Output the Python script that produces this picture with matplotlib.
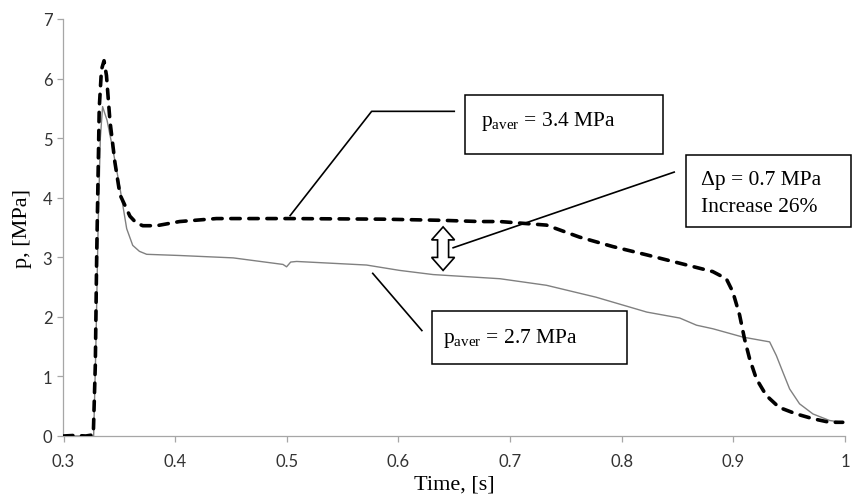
import matplotlib
matplotlib.use("Agg")
import matplotlib.pyplot as plt
from matplotlib.patches import Rectangle, Polygon

# pressure curves
t_new = [0.300, 0.310, 0.320, 0.3267, 0.3285, 0.3297, 0.332, 0.334, 0.3363, 0.3385,
         0.3416, 0.346, 0.3506, 0.3595, 0.365, 0.371, 0.3834, 0.404, 0.437, 0.503,
         0.586, 0.640, 0.673, 0.691, 0.7326, 0.762, 0.792, 0.8225, 0.852, 0.8815,
         0.8937, 0.8995, 0.9056, 0.910, 0.9145, 0.9206, 0.9295, 0.941, 0.9564,
         0.9713, 0.9862, 0.998]
p_new = [0.0, 0.01, 0.0, 0.02, 1.2, 3.0, 5.5, 6.15, 6.30, 6.05,
         5.29, 4.6, 4.05, 3.69, 3.58, 3.53, 3.53, 3.60, 3.65, 3.65,
         3.64, 3.62, 3.60, 3.60, 3.54, 3.34, 3.18, 3.04, 2.90, 2.76,
         2.64, 2.42, 2.03, 1.63, 1.30, 0.96, 0.68, 0.48, 0.37,
         0.29, 0.23, 0.23]

t_old = [0.300, 0.327, 0.329, 0.331, 0.333, 0.335, 0.339, 0.344, 0.3506, 0.3566,
         0.362, 0.368, 0.3745, 0.404, 0.452, 0.4966, 0.4998, 0.5035, 0.5088, 0.5714,
         0.601, 0.631, 0.691, 0.7326, 0.777, 0.8225, 0.852, 0.867, 0.8817, 0.9086,
         0.9325, 0.9385, 0.9444, 0.9504, 0.9593, 0.9713, 0.9862, 0.998]
p_old = [0.0, 0.0, 1.5, 3.5, 5.0, 5.53, 5.3, 4.83, 4.16, 3.48,
         3.2, 3.1, 3.05, 3.03, 2.99, 2.88, 2.84, 2.92, 2.93, 2.87,
         2.78, 2.71, 2.64, 2.53, 2.33, 2.08, 1.98, 1.86, 1.80, 1.66,
         1.58, 1.35, 1.07, 0.79, 0.54, 0.37, 0.26, 0.23]

x_ticks = [0.3, 0.4, 0.5, 0.6, 0.7, 0.8, 0.9, 1.0]
x_labels = ["0.3", "0.4", "0.5", "0.6", "0.7", "0.8", "0.9", "1"]
y_ticks = [0, 1, 2, 3, 4, 5, 6, 7]

plt.rcParams["mathtext.fontset"] = "custom"
plt.rcParams["mathtext.rm"] = "Liberation Serif"
serif = ["Liberation Serif", "DejaVu Serif"]
W, H = 852, 502
fig = plt.figure(figsize=(W / 100, H / 100), dpi=100)
ax = fig.add_axes([63.5 / W, 1 - 437 / H, (845 - 63.5) / W, (437 - 20) / H])

ax.plot(t_old, p_old, color="#808080", lw=1.0, zorder=3)
ax.plot(t_new, p_new, color="black", lw=2.6, linestyle=(0, (2.6, 2.4)),
        dash_capstyle="round", zorder=4)

ax.set_xlim(0.3, 1.0)
ax.set_ylim(0, 7)
ax.set_xticks(x_ticks)
ax.set_xticklabels(x_labels)
ax.set_yticks(y_ticks)
for s in ["top", "right"]:
    ax.spines[s].set_visible(False)
for s in ["left", "bottom"]:
    ax.spines[s].set_color("#a6a6a6")
    ax.spines[s].set_linewidth(0.9)
ax.tick_params(axis="both", color="#a6a6a6", length=4, width=0.9,
               labelcolor="#333333", labelsize=12)
ax.tick_params(axis="x", pad=8)
ax.tick_params(axis="y", pad=4)
for lab in ax.get_xticklabels() + ax.get_yticklabels():
    lab.set_family(["Lato", "DejaVu Sans"])

ax.set_xlabel("Time, [s]", family=serif, fontsize=16, labelpad=4)
ax.set_ylabel("p, [MPa]", family=serif, fontsize=16, labelpad=8)

# annotation boxes
box_kw = dict(facecolor="white", edgecolor="black", lw=1.1, clip_on=False, zorder=5)
ax.add_patch(Rectangle((0.660, 4.74), 0.177, 0.99, **box_kw))
ax.add_patch(Rectangle((0.858, 3.51), 0.147, 1.21, **box_kw))
ax.add_patch(Rectangle((0.630, 1.21), 0.175, 0.88, **box_kw))

txt_kw = dict(family=serif, fontsize=15.5, zorder=6, clip_on=False)
ax.text(0.6744, 5.22, r"p$_{\mathregular{aver}}$ = 3.4 MPa", va="baseline", **txt_kw)
ax.text(0.871, 4.30, "\u0394p = 0.7 MPa", va="center", **txt_kw)
ax.text(0.871, 3.85, "Increase 26%", va="center", **txt_kw)
ax.text(0.640, 1.58, r"p$_{\mathregular{aver}}$ = 2.7 MPa", va="baseline", **txt_kw)

# leader lines
ln_kw = dict(color="black", lw=1.2, zorder=5)
ax.plot([0.650, 0.576, 0.503], [5.45, 5.45, 3.70], **ln_kw)
ax.plot([0.847, 0.649], [4.43, 3.16], **ln_kw)
ax.plot([0.577, 0.621], [2.73, 1.77], **ln_kw)

# hollow double arrow between the curves
cx, top, bot = 0.640, 3.51, 2.78
dxp, dyp = 0.7 / (845 - 63.5), 7 / 417
hw, sw, hl = 11.5 * dxp, 5.5 * dxp, 13 * dyp
pts = [(cx, top), (cx + hw, top - hl), (cx + sw, top - hl), (cx + sw, bot + hl),
       (cx + hw, bot + hl), (cx, bot), (cx - hw, bot + hl), (cx - sw, bot + hl),
       (cx - sw, top - hl), (cx - hw, top - hl)]
ax.add_patch(Polygon(pts, closed=True, facecolor="white", edgecolor="black",
                     lw=1.2, zorder=6))

fig.savefig("out.png", dpi=100)
